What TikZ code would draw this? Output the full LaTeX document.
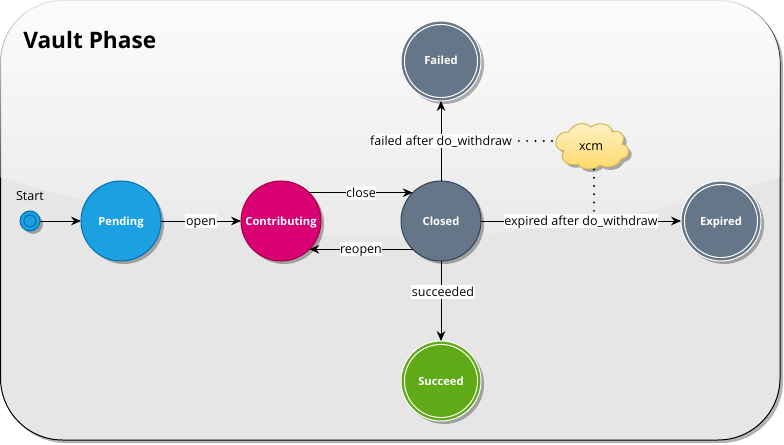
\documentclass[tikz,border=0pt]{standalone}
\usepackage{fontspec}
\setmainfont{Open Sans}
\usetikzlibrary{arrows.meta,shadows,fadings,calc}
\definecolor{cBlue}{HTML}{1BA1E2}\definecolor{sBlue}{HTML}{006EAF}
\definecolor{cPink}{HTML}{D80073}\definecolor{sPink}{HTML}{A50040}
\definecolor{cSlate}{HTML}{647687}\definecolor{sSlate}{HTML}{314354}
\definecolor{cGreen}{HTML}{60A917}\definecolor{sGreen}{HTML}{2D7600}
\definecolor{cBg}{HTML}{E6E6E6}
\definecolor{cCloudT}{HTML}{FFF2CC}\definecolor{cCloudB}{HTML}{FFD966}\definecolor{sCloud}{HTML}{D6B656}
\tikzfading[name=glassfade, top color=transparent!10, bottom color=transparent!90]
\tikzset{
  x=0.75pt,y=-0.75pt,
  softshadow/.style={drop shadow={shadow xshift=2.25pt,shadow yshift=-2.25pt,fill=black,opacity=.3}},
  statebase/.style={circle,minimum size=60pt,inner sep=0pt,outer sep=0pt,line width=.75pt,softshadow,text=white,text height=7.5pt,text depth=1.5pt,font=\fontsize{8.4}{10}\selectfont\bfseries},
  plainstate/.style={statebase,fill=#1},
  ringstate/.style={statebase,fill=#1,draw=white,
    path picture={\draw[white,line width=.75pt] (path picture bounding box.center) circle (27.4pt);}},
  edge/.style={line width=.75pt,-{Stealth[length=7.5pt,width=6.5pt]}},
  lbl/.style={fill=white,inner xsep=.4pt,inner ysep=.5pt,text height=8pt,text depth=1.5pt,text=black,font=\fontsize{9.4}{11}\selectfont},
  dots/.style={line width=1.6pt,line cap=round,dash pattern=on 0pt off 6.2pt}
}
\begin{document}
\begin{tikzpicture}
\useasboundingbox (0,0) rectangle (784,445);
% panel
\fill[cBg,rounded corners=46.5pt,drop shadow={shadow xshift=2.25pt,shadow yshift=-2.25pt,fill=black,opacity=.3}] (.5,.5) rectangle (780,440);
\draw[black,line width=.75pt,rounded corners=46.5pt] (.5,.5) rectangle (780,440);
\fill[white,path fading=glassfade,rounded corners=47pt] (-.5,177) -- (-.5,-.5) -- (781,-.5) [sharp corners] -- (781,177) .. controls (520,258) and (260,258) .. cycle;
\node[anchor=west,inner sep=0pt,text=black,font=\fontsize{17}{20}\selectfont\bfseries] (title) at (23,40) {Vault Phase};
% states
\node[circle,minimum size=15pt,inner sep=0pt,outer sep=0pt,fill=cBlue,draw=sBlue,line width=.75pt,softshadow] (start) at (30,221) {};
\node[circle,minimum size=9pt,inner sep=0pt,draw=sBlue,line width=.75pt] (startin) at (30,221) {};
\node[inner sep=0pt,text=black,font=\fontsize{9.4}{11}\selectfont] (startlbl) at (30,196) {Start};
\node[plainstate=cBlue,draw=sBlue] (pending) at (121,221) {Pending};
\node[plainstate=cPink,draw=sPink] (contrib) at (281,221) {Contributing};
\node[plainstate=cSlate,draw=sSlate] (closed) at (441,221) {Closed};
\node[ringstate=cSlate] (failed) at (441,61) {Failed};
\node[ringstate=cSlate] (expired) at (721,221) {Expired};
\node[ringstate=cGreen] (succeed) at (441,381) {Succeed};
% cloud
\path[fill=cCloudB,top color=cCloudT,bottom color=cCloudB,draw=sCloud,line width=.75pt,softshadow]
 (556,142) .. controls (556,134) and (565,131) .. (569,132)
 .. controls (572,125) and (583,120) .. (591,127)
 .. controls (598,121) and (612,124) .. (612,132)
 .. controls (620,129) and (627,136) .. (622,144)
 .. controls (632,147) and (630,158) .. (621,159)
 .. controls (618,167) and (606,169) .. (600,165)
 .. controls (594,171) and (581,170) .. (578,164)
 .. controls (568,167) and (558,160) .. (564,151)
 .. controls (558,150) and (555,146) .. (556,142) -- cycle;
\node[inner sep=0pt,text=black,font=\fontsize{9.4}{11}\selectfont] (xcm) at (591,147) {xcm};
\coordinate (cloudW) at (556,141);
\coordinate (cloudS) at (594,169.5);
% connectors
\draw[edge] (start) -- (pending);
\draw[edge] (pending) -- node[lbl,name=lblopen]{open} (contrib);
\draw[edge] (contrib.45) -- node[lbl,name=lblclose]{close} (closed.135);
\draw[edge] (closed.225) -- node[lbl,name=lblreopen]{reopen} (contrib.-45);
\draw[edge] (closed) -- node[lbl,name=lblfailed]{failed after do\_withdraw} (failed);
\draw[edge] (closed) -- node[lbl,pos=.39,xshift=1.5pt,name=lblsucc]{succeeded} (succeed);
\draw[edge] (closed) -- node[lbl,name=lblexp]{expired after do\_withdraw} (expired);
\draw[dots,dash phase=1.7pt] (lblfailed.east) -- (cloudW);
\draw[dots] (cloudS) -- (cloudS |- lblexp.north);
\end{tikzpicture}
\end{document}
